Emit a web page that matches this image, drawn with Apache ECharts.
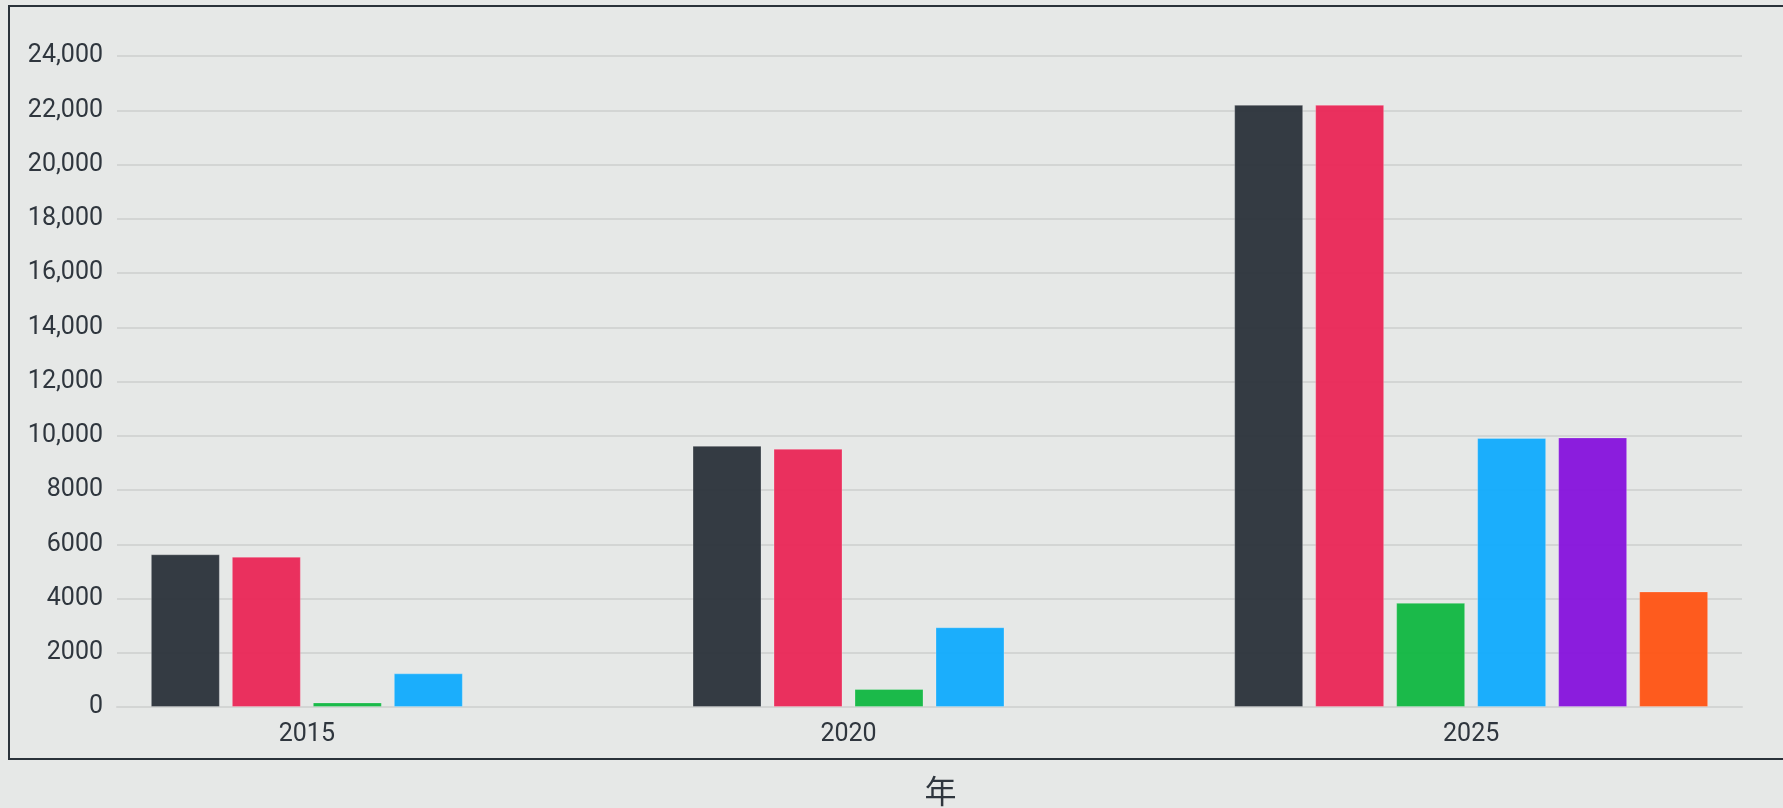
<!DOCTYPE html>
<html>
<head>
<meta charset="utf-8">
<script src="https://cdn.jsdelivr.net/npm/echarts@6/dist/echarts.min.js"></script>
<style>
html,body{margin:0;padding:0;background:#e6e8e7;}
#chart{width:1783px;height:808px;}
</style>
</head>
<body>
<div id="chart"></div>
<script>
const categories = ['2015', '2020', '2025'];
const seriesNames = ['系列1', '系列2', '系列3', '系列4', '系列5', '系列6'];
const s1 = [5630, 9630, 22200];
const s2 = [5540, 9520, 22200];
const s3 = [170, 665, 3840];
const s4 = [1240, 2940, 9920];
const s5 = [null, null, 9940];
const s6 = [null, null, 4260];
const colors = ['#2a323a', '#ea2656', '#10b741', '#10abfd', '#8612dc', '#ff5313'];
const yTicks = { min: 0, max: 24000, interval: 2000 };

const chart = echarts.init(document.getElementById('chart'), null, { renderer: 'canvas' });
const allData = [s1, s2, s3, s4, s5, s6];
const textColor = '#2f363e';
const font = 'Roboto';

// layout: band width and bar step, to center each label on its drawn bars
const gridLeft = 117, gridRight = 41, chartW = 1783;
const band = (chartW - gridLeft - gridRight) / categories.length;
const catGap = 0.125, barGapRatio = 0.174;
const nSeries = allData.length;
const barW = band * (1 - catGap) / (nSeries + (nSeries - 1) * barGapRatio);
const step = barW * (1 + barGapRatio);

const xData = categories.map((c, i) => {
  const present = allData.filter(d => d[i] != null).length;
  const shift = (nSeries - present) * step / 2;
  return { value: c, textStyle: { padding: [0, shift * 2, 0, 0] } };
});

chart.setOption({
  backgroundColor: '#e6e8e7',
  animation: false,
  grid: { left: gridLeft, right: gridRight, top: 56, bottom: 101, containLabel: false, outerBoundsMode: 'none' },
  graphic: [{
    type: 'rect',
    shape: { x: 9, y: 6, width: 1800, height: 753 },
    style: { fill: 'none', stroke: '#2a323a', lineWidth: 2 },
    silent: true
  }],
  xAxis: {
    type: 'category',
    data: xData,
    name: '年',
    nameLocation: 'middle',
    nameGap: 68,
    nameTextStyle: { fontSize: 32, color: textColor, fontFamily: 'Noto Sans CJK SC', padding: [0, 0, 0, 22] },
    axisLine: { show: true, lineStyle: { color: '#d3d5d4', width: 2 } },
    axisTick: { show: false },
    axisLabel: { fontSize: 25, color: textColor, fontFamily: font, margin: 15 }
  },
  yAxis: {
    type: 'value',
    min: yTicks.min,
    max: yTicks.max,
    interval: yTicks.interval,
    axisLine: { show: false },
    axisTick: { show: false },
    splitLine: { lineStyle: { color: '#d3d5d4', width: 2 } },
    axisLabel: {
      fontSize: 25, color: textColor, fontFamily: font, margin: 14,
      formatter: v => v >= 10000 ? v.toLocaleString('en-US') : String(v)
    }
  },
  series: allData.map((d, i) => ({
    name: seriesNames[i],
    type: 'bar',
    data: d,
    barCategoryGap: (catGap * 100) + '%',
    barGap: (barGapRatio * 100) + '%',
    itemStyle: {
      color: colors[i],
      opacity: 0.95,
      borderColor: 'rgba(255,255,255,0.25)',
      borderWidth: 1
    }
  }))
});
</script>
</body>
</html>
